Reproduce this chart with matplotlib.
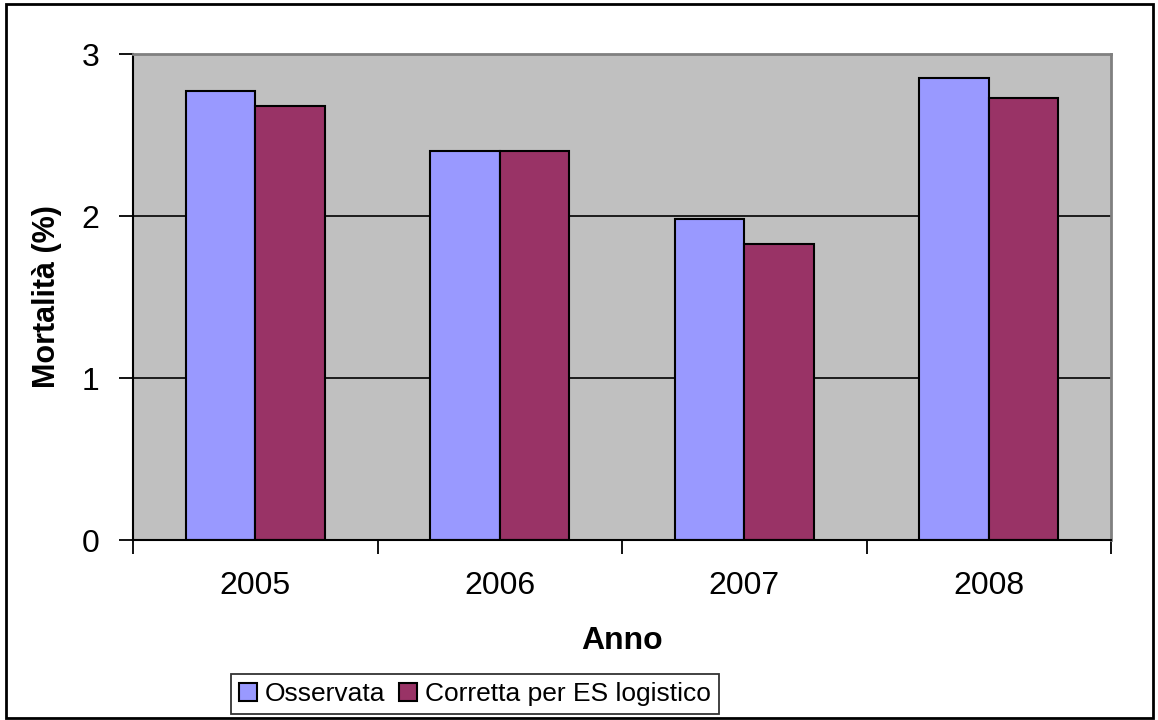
import numpy as np
import matplotlib
matplotlib.use("Agg")
import matplotlib.pyplot as plt
from matplotlib.patches import Rectangle

plt.rcParams['font.family'] = ['Liberation Sans', 'DejaVu Sans']

# data
anni = ['2005', '2006', '2007', '2008']
osservata = [2.77, 2.40, 1.98, 2.85]
corretta = [2.68, 2.40, 1.83, 2.73]

fig = plt.figure(figsize=(11.58, 7.2), dpi=100)
ax = fig.add_axes([0.1149, 0.25, 0.8445, 0.675])

x = np.arange(len(anni))
w = 0.285
ax.set_facecolor('#c0c0c0')
for y in [1, 2, 3]:
    ax.axhline(y, color='black', lw=1.2, zorder=1)
ax.bar(x - w/2, osservata, w, color='#9999ff', edgecolor='black', lw=1.5, zorder=2, label='Osservata')
ax.bar(x + w/2, corretta, w, color='#993366', edgecolor='black', lw=1.5, zorder=2, label='Corretta per ES logistico')

ax.set_xlim(-0.5, len(anni) - 0.5)
ax.set_ylim(0, 3)
ax.set_yticks([0, 1, 2, 3])
ax.set_yticklabels(['0', '1', '2', '3'], fontsize=23)
ax.set_xticks(x)
ax.set_xticklabels(anni, fontsize=23)
ax.tick_params(axis='x', length=0, pad=22)
ax.set_xticks(np.arange(len(anni) + 1) - 0.5, minor=True)
ax.tick_params(axis='x', which='minor', length=10, width=1.3, direction='out')
ax.tick_params(axis='y', length=10, width=1.3, direction='out', pad=14)

ax.spines['left'].set_color('black')
ax.spines['bottom'].set_color('black')
ax.spines['left'].set_linewidth(1.5)
ax.spines['bottom'].set_linewidth(1.5)
ax.spines['top'].set_color('#808080')
ax.spines['right'].set_color('#808080')
ax.spines['top'].set_linewidth(2)
ax.spines['right'].set_linewidth(2)

ax.set_xlabel('Anno', fontsize=23, fontweight='bold', labelpad=18)
ax.set_ylabel('Mortalità (%)', fontsize=22, fontweight='bold', labelpad=14)

leg = fig.legend(loc='center', bbox_to_anchor=(0.41, 0.036), fontsize=19,
                 ncol=2, frameon=True, fancybox=False, edgecolor='black',
                 handlelength=0.7, handleheight=0.7, handletextpad=0.3,
                 columnspacing=0.5, borderpad=0.3)
leg.get_frame().set_linewidth(1.3)

fig.add_artist(Rectangle((0.005, 0.003), 0.991, 0.992, transform=fig.transFigure,
                         fill=False, edgecolor='black', lw=2))

fig.savefig('out.png', dpi=100)
